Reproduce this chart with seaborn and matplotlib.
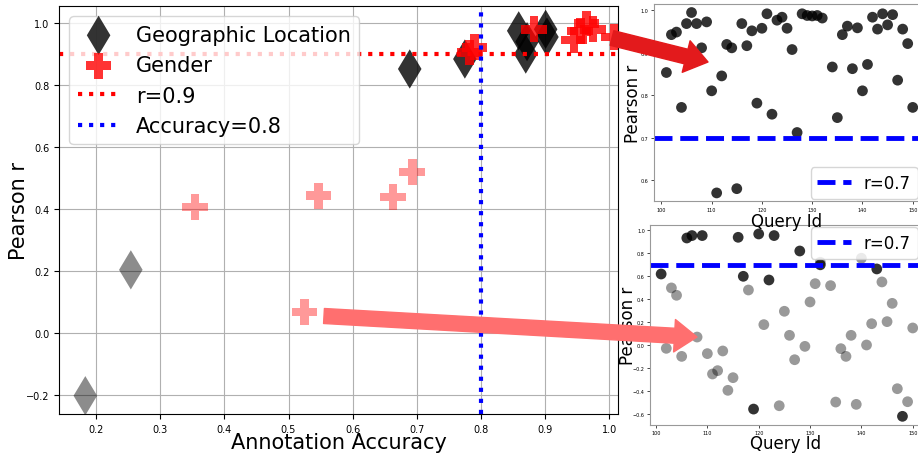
import numpy as np
import matplotlib
matplotlib.use('Agg')
import matplotlib.pyplot as plt
import seaborn as sns
from matplotlib.patches import FancyArrowPatch
from matplotlib.transforms import IdentityTransform

# main panel: annotation accuracy vs pearson r
geo_acc = [0.183, 0.254, 0.689, 0.775, 0.859, 0.870, 0.872, 0.901, 0.903]
geo_r = [-0.202, 0.204, 0.852, 0.884, 0.975, 0.900, 0.940, 0.980, 0.955]
gender_acc = [0.354, 0.547, 0.663, 0.693, 0.525, 0.782, 0.790, 0.883, 0.945, 0.955, 0.965, 0.975, 1.008]
gender_r = [0.406, 0.443, 0.439, 0.520, 0.068, 0.905, 0.922, 0.980, 0.945, 0.975, 0.998, 0.980, 0.955]

# top inset: geographic location per query
top_ids = [101, 102, 103, 104, 105, 106, 107, 108, 109, 110, 111, 112, 113, 114, 115, 116, 117,
           118, 119, 120, 121, 122, 123, 124, 125, 126, 127, 128, 129, 130, 131, 132, 134, 135,
           136, 137, 138, 139, 140, 141, 142, 143, 144, 145, 146, 147, 148, 149, 150]
top_r = [0.853, 0.942, 0.948, 0.771, 0.968, 0.994, 0.968, 0.911, 0.972, 0.810, 0.570, 0.845, 0.919,
         0.911, 0.580, 0.968, 0.916, 0.951, 0.781, 0.957, 0.991, 0.755, 0.976, 0.983, 0.957, 0.907,
         0.712, 0.991, 0.987, 0.986, 0.987, 0.981, 0.866, 0.747, 0.942, 0.962, 0.862, 0.958, 0.810,
         0.872, 0.983, 0.955, 0.991, 0.965, 0.989, 0.835, 0.955, 0.921, 0.771]

# bottom inset: gender per query
bot_dark_ids = [101, 106, 107, 109, 116, 117, 119, 120, 122, 123, 128, 132, 143, 148]
bot_dark_r = [0.620, 0.933, 0.954, 0.954, 0.939, 0.600, -0.554, 0.968, 0.568, 0.954, 0.820, 0.700, 0.664, -0.617]
bot_gray_ids = [102, 103, 104, 105, 108, 110, 111, 112, 113, 114, 115, 118, 121, 124, 125, 126, 127,
                129, 130, 131, 132, 134, 135, 136, 137, 138, 139, 140, 141, 142, 144, 145, 146, 147,
                149, 150]
bot_gray_r = [-0.026, 0.499, 0.435, -0.096, 0.072, -0.072, -0.249, -0.220, -0.049, -0.391, -0.281,
              0.481, 0.180, -0.525, 0.296, 0.087, -0.125, -0.009, 0.377, 0.536, 0.722, 0.519, -0.493,
              -0.029, -0.096, 0.087, -0.513, 0.757, 0.003, 0.188, 0.551, 0.206, 0.365, -0.377, -0.490,
              0.151]

geo_acc = np.array(geo_acc); geo_r = np.array(geo_r)
gender_acc = np.array(gender_acc); gender_r = np.array(gender_r)

fig = plt.figure(figsize=(9.18, 4.56), dpi=100)

# Main plot
ax = fig.add_axes([0.0643, 0.0899, 0.609, 0.8947])
ax.grid(True, zorder=0)
ax.set_axisbelow(True)
hi = geo_r >= 0.8
sns.scatterplot(x=geo_acc[~hi], y=geo_r[~hi], marker='d', s=400, color='black', alpha=0.45,
                edgecolor='none', ax=ax)
sns.scatterplot(x=geo_acc[hi], y=geo_r[hi], marker='d', s=400, color='black', alpha=0.8,
                edgecolor='none', ax=ax, label='Geographic Location')
hi = gender_r >= 0.8
sns.scatterplot(x=gender_acc[~hi], y=gender_r[~hi], marker='P', s=340, color='red', alpha=0.4,
                edgecolor='none', ax=ax)
sns.scatterplot(x=gender_acc[hi], y=gender_r[hi], marker='P', s=340, color='red', alpha=0.8,
                edgecolor='none', ax=ax, label='Gender')
ax.axhline(0.9, color='red', linestyle=':', linewidth=3, label='r=0.9')
ax.axvline(0.8, color='blue', linestyle=':', linewidth=3, label='Accuracy=0.8')
ax.set_xlim(0.142, 1.014)
ax.set_ylim(-0.261, 1.055)
ax.tick_params(labelsize=7)
ax.set_xlabel('Annotation Accuracy', fontsize=15, labelpad=-1)
ax.set_ylabel('Pearson r', fontsize=15, labelpad=-2)
ax.legend(loc='upper left', fontsize=15)

# Top inset (drawn above the bottom inset so its x label sits on top)
ax1 = fig.add_axes([0.7124, 0.557, 0.2898, 0.432])
ax1.set_zorder(1)
sns.scatterplot(x=top_ids, y=top_r, s=60, color='black', alpha=0.8, edgecolor='none', ax=ax1)
ax1.axhline(0.7, color='blue', linestyle='--', linewidth=3.5, label='r=0.7')
ax1.set_xlim(98.53, 151.45)
ax1.set_ylim(0.551, 1.014)
ax1.set_xticks([100, 110, 120, 130, 140, 150])
ax1.set_yticks([0.6, 0.7, 0.8, 0.9, 1.0])
ax1.tick_params(labelsize=3.5, length=2, width=0.5, pad=2)
ax1.set_xlabel('Query Id', fontsize=12, labelpad=0.5)
ax1.set_ylabel('Pearson r', fontsize=12, labelpad=-1)
ax1.legend(loc='lower right', fontsize=12, borderaxespad=0.15)
for sp in ax1.spines.values():
    sp.set_color('#999999')

# Bottom inset
ax2 = fig.add_axes([0.7084, 0.0664, 0.2938, 0.438])
sns.scatterplot(x=bot_gray_ids, y=bot_gray_r, s=60, color='black', alpha=0.4, edgecolor='none', ax=ax2)
sns.scatterplot(x=bot_dark_ids, y=bot_dark_r, s=60, color='black', alpha=0.8, edgecolor='none', ax=ax2)
ax2.axhline(0.7, color='blue', linestyle='--', linewidth=3.5, label='r=0.7')
ax2.set_xlim(98.89, 151.42)
ax2.set_ylim(-0.69, 1.046)
ax2.set_xticks([100, 110, 120, 130, 140, 150])
ax2.set_yticks([-0.6, -0.4, -0.2, 0.0, 0.2, 0.4, 0.6, 0.8, 1.0])
ax2.tick_params(labelsize=3.5, length=2, width=0.5, pad=2)
ax2.set_xlabel('Query Id', fontsize=12, labelpad=-1)
ax2.set_ylabel('Pearson r', fontsize=12, labelpad=-3)
ax2.legend(loc='upper right', fontsize=12, borderaxespad=0.15)
for sp in ax2.spines.values():
    sp.set_color('#999999')

# Arrows connecting main plot to the insets (figure pixels)
arrow_style = 'simple,tail_width=0.3,head_width=0.65,head_length=0.45'
fig.add_artist(FancyArrowPatch((612, 417), (708, 393), arrowstyle=arrow_style, mutation_scale=36,
                               color='#e31a1c', transform=IdentityTransform(), shrinkA=0, shrinkB=0,
                               zorder=5))
fig.add_artist(FancyArrowPatch((324, 139), (697, 118), arrowstyle=arrow_style, mutation_scale=36,
                               color='#ff6f6f', transform=IdentityTransform(), shrinkA=0, shrinkB=0,
                               zorder=5))

plt.savefig('out.png', dpi=100)
